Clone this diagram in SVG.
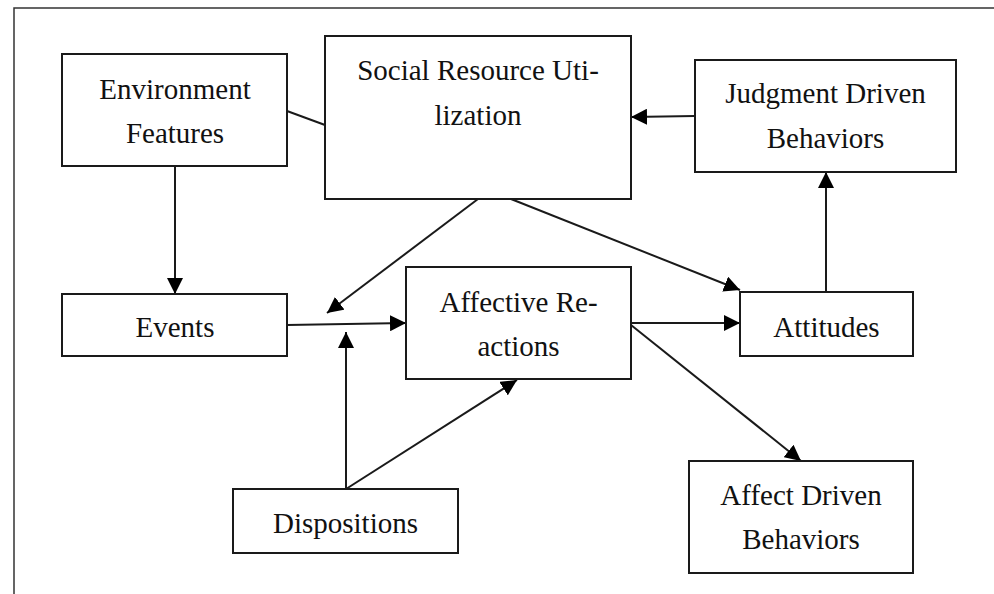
<svg xmlns="http://www.w3.org/2000/svg" width="994" height="594" viewBox="0 0 994 594">
<style>
.box{fill:#fff;stroke:#1a1a1a;stroke-width:2}
.t{font-family:"Liberation Serif","Times New Roman",serif;font-size:29px;fill:#111;text-anchor:middle}
.c{fill:none;stroke:#1a1a1a;stroke-width:2}
</style>
<defs>
<marker id="ah" markerUnits="userSpaceOnUse" markerWidth="16" markerHeight="16" refX="15" refY="7.5" orient="auto" viewBox="0 0 15 15">
<path d="M0,0 L15,7.5 L0,15 Z" fill="#000"/>
</marker>
</defs>
<rect width="994" height="594" fill="#fff"/>
<path d="M14,594 V8 H994" fill="none" stroke="#333" stroke-width="1.5"/>
<g id="connectors">
<line class="c" x1="287" y1="111" x2="325" y2="125"/>
<line class="c" x1="175" y1="166" x2="175" y2="294" marker-end="url(#ah)"/>
<line class="c" x1="695" y1="116" x2="631" y2="117" marker-end="url(#ah)"/>
<line class="c" x1="478" y1="199" x2="327" y2="313" marker-end="url(#ah)"/>
<line class="c" x1="511" y1="199" x2="740" y2="290" marker-end="url(#ah)"/>
<line class="c" x1="826" y1="292" x2="826" y2="172" marker-end="url(#ah)"/>
<line class="c" x1="287" y1="325" x2="406" y2="323" marker-end="url(#ah)"/>
<line class="c" x1="346" y1="489" x2="346" y2="332" marker-end="url(#ah)"/>
<line class="c" x1="346" y1="489" x2="517" y2="380" marker-end="url(#ah)"/>
<line class="c" x1="631" y1="323" x2="740" y2="323" marker-end="url(#ah)"/>
<line class="c" x1="631" y1="325" x2="801" y2="461" marker-end="url(#ah)"/>
</g>
<g id="environment-features">
<rect class="box" x="62" y="54" width="225" height="112"/>
<text class="t" x="175" y="99">Environment</text>
<text class="t" x="175" y="143">Features</text>
</g>
<g id="social-resource-utilization">
<rect class="box" x="325" y="36" width="306" height="163"/>
<text class="t" x="478" y="80">Social Resource Uti-</text>
<text class="t" x="478" y="125">lization</text>
</g>
<g id="judgment-driven-behaviors">
<rect class="box" x="695" y="60" width="261" height="112"/>
<text class="t" x="825.5" y="103">Judgment Driven</text>
<text class="t" x="825.5" y="148">Behaviors</text>
</g>
<g id="events">
<rect class="box" x="62" y="294" width="225" height="62"/>
<text class="t" x="175" y="337">Events</text>
</g>
<g id="affective-reactions">
<rect class="box" x="406" y="267" width="225" height="112"/>
<text class="t" x="518.5" y="312">Affective Re-</text>
<text class="t" x="518.5" y="356">actions</text>
</g>
<g id="attitudes">
<rect class="box" x="740" y="292" width="173" height="64"/>
<text class="t" x="826.5" y="337">Attitudes</text>
</g>
<g id="dispositions">
<rect class="box" x="233" y="489" width="225" height="64"/>
<text class="t" x="345.5" y="533">Dispositions</text>
</g>
<g id="affect-driven-behaviors">
<rect class="box" x="689" y="461" width="224" height="112"/>
<text class="t" x="801" y="505">Affect Driven</text>
<text class="t" x="801" y="549">Behaviors</text>
</g>
</svg>
